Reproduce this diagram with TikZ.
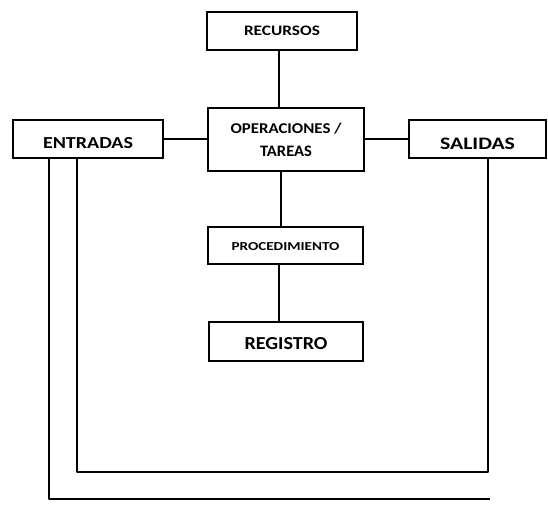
\documentclass[tikz,border=0pt]{standalone}
\usepackage{fontspec}
\usepackage{graphicx}
\setmainfont{Carlito}
% a bold caption scaled to a given width and cap height (in pt)
\newcommand{\boxlabel}[3]{\resizebox{#1pt}{#2pt}{\bfseries #3}}
\begin{document}
\begin{tikzpicture}[x=1pt,y=-1pt,
  box/.style={draw=black,line width=2.8pt,fill=white,inner sep=0pt,align=center},
  link/.style={draw=black,line width=2.4pt}]
\useasboundingbox (0,0) rectangle (548,504);
% boxes
\node[box,minimum width=150,minimum height=38,text height=15pt,text depth=6pt] (rec) at (282,31)
  {\boxlabel{76}{9.5}{RECURSOS}};
\node[box,minimum width=156,minimum height=63,font=\fontsize{12}{23}\selectfont] (ope) at (286,139.5)
  {\boxlabel{111}{10.5}{OPERACIONES /}\\\boxlabel{52}{10.5}{TAREAS}};
\node[box,minimum width=150,minimum height=38,text height=25pt,text depth=6pt] (ent) at (88,139)
  {\boxlabel{90}{11}{ENTRADAS}};
\node[box,minimum width=137,minimum height=38,text height=26pt,text depth=6pt] (sal) at (477.5,139)
  {\boxlabel{75}{11.5}{SALIDAS}};
\node[box,minimum width=155,minimum height=37,text height=15pt,text depth=6pt] (pro) at (285.5,245.5)
  {\boxlabel{108}{8}{PROCEDIMIENTO}};
\node[box,minimum width=154,minimum height=39,text height=22pt,text depth=6pt] (reg) at (286,341.5)
  {\boxlabel{83}{12}{REGISTRO}};
% connectors
\draw[link] (rec.south -| 279,0) -- (ope.north -| 279,0);
\draw[link] (ent.east) -- (ent.east -| ope.west);
\draw[link] (sal.west -| ope.east) -- (sal.west);
\draw[link] (ope.south -| 281,0) -- (pro.north -| 281,0);
\draw[link] (pro.south -| 279,0) -- (reg.north -| 279,0);
% feedback lines below
\coordinate (endout) at (490,499);
\draw[link,line join=round] (ent.south -| 77,0) -- (77,472) -- (488,472) -- (sal.south -| 488,0);
\draw[link,line join=round] (ent.south -| 49,0) -- (49,499) -- (endout);
\end{tikzpicture}
\end{document}
